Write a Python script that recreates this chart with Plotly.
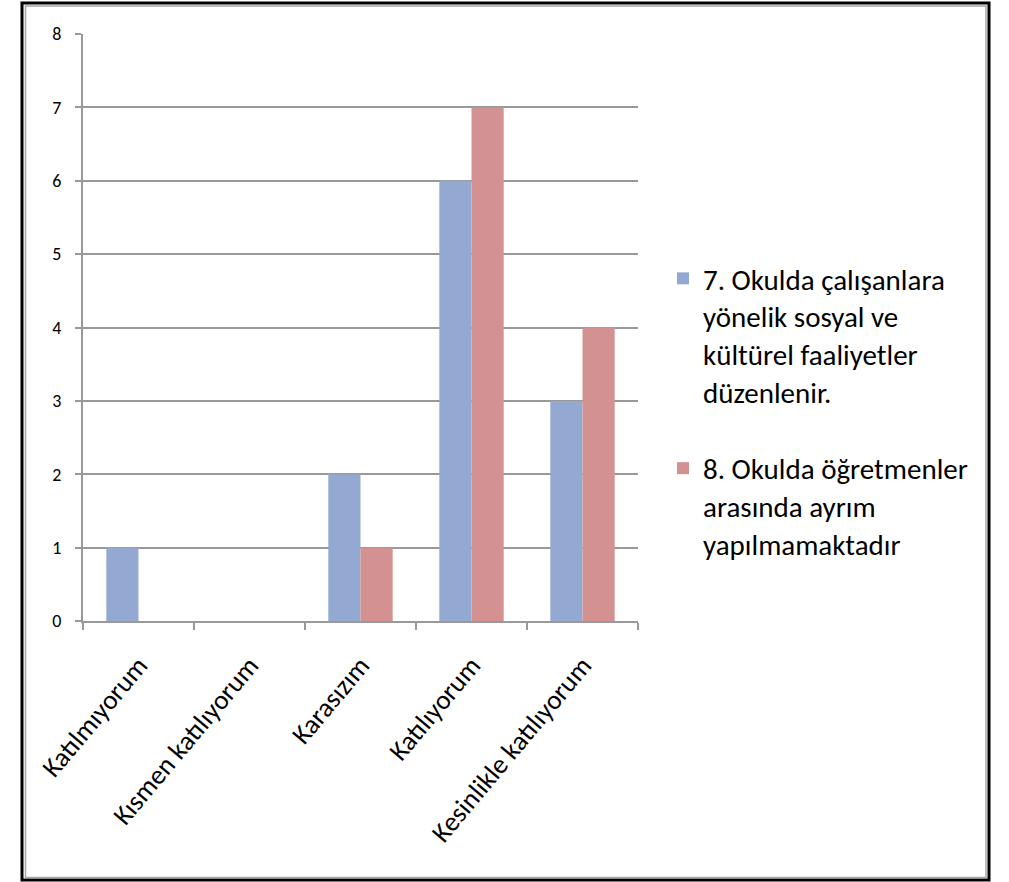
import plotly.graph_objects as go

categories = ["Katılmıyorum", "Kısmen katılıyorum", "Karasızım", "Katılıyorum", "Kesinlikle katılıyorum"]
series7_name = "7. Okulda çalışanlara<br>yönelik sosyal ve<br>kültürel faaliyetler<br>düzenlenir."
series8_name = "8. Okulda öğretmenler<br>arasında ayrım<br>yapılmamaktadır"
series7 = [1, 0, 2, 6, 3]
series8 = [0, 0, 1, 7, 4]
y_ticks = [0, 1, 2, 3, 4, 5, 6, 7, 8]

W, H = 1009, 882
L, R, T, B = 83, 638, 34, 621  # plot area in pixels

FONT = "Carlito, Calibri, Lato, 'Open Sans', sans-serif"

fig = go.Figure()
fig.add_trace(go.Bar(x=categories, y=series7, name=series7_name,
                     marker=dict(color="#94A9D1", line=dict(width=0)),
                     legendgroup="a"))
fig.add_trace(go.Bar(x=categories, y=series8, name=series8_name,
                     marker=dict(color="#D39191", line=dict(width=0)),
                     legendgroup="b"))

def px_to_paper_x(px):
    return (px - L) / (R - L)

def px_to_paper_y(py):
    return (B - py) / (B - T)

shapes = [
    dict(type="rect", xref="paper", yref="paper",
         x0=px_to_paper_x(22), x1=px_to_paper_x(989),
         y0=px_to_paper_y(880), y1=px_to_paper_y(3),
         line=dict(color="black", width=3), fillcolor="rgba(0,0,0,0)", layer="below"),
    dict(type="rect", xref="paper", yref="paper",
         x0=px_to_paper_x(25.5), x1=px_to_paper_x(986),
         y0=px_to_paper_y(877.5), y1=px_to_paper_y(6),
         line=dict(color="#a6a6a6", width=1.5), fillcolor="rgba(0,0,0,0)", layer="below"),
]

fig.update_layout(
    width=W, height=H,
    margin=dict(l=L, r=W - R, t=T, b=H - B, autoexpand=False),
    paper_bgcolor="white", plot_bgcolor="white",
    barmode="group", bargap=0.42, bargroupgap=0,
    font=dict(family=FONT, color="black"),
    showlegend=True,
    legend=dict(x=px_to_paper_x(663), y=px_to_paper_y(253), xanchor="left", yanchor="top",
                font=dict(size=29, family=FONT, color="black"),
                traceorder="grouped", tracegroupgap=36, valign="top",
                itemwidth=30, bgcolor="rgba(0,0,0,0)"),
    shapes=shapes,
    xaxis=dict(type="category", showline=True, linecolor="#999999", linewidth=2,
               ticks="outside", ticklen=7, tickcolor="#999999", tickwidth=1.5,
               tickson="boundaries", tickangle=-50,
               tickfont=dict(size=27, family=FONT, color="black"),
               ticklabelstandoff=16,
               showgrid=False, zeroline=False),
    yaxis=dict(range=[0, 8], tickvals=y_ticks, showline=True, linecolor="#999999", linewidth=2,
               ticks="outside", ticklen=6, tickcolor="#999999", tickwidth=1.5,
               showgrid=True, gridcolor="#999999", gridwidth=2,
               zeroline=False, tickfont=dict(size=18, family=FONT, color="black"),
               ticklabelstandoff=10),
)

fig.write_html("out.html", config={"displayModeBar": False},
               post_script="document.body.style.margin='0px';")
